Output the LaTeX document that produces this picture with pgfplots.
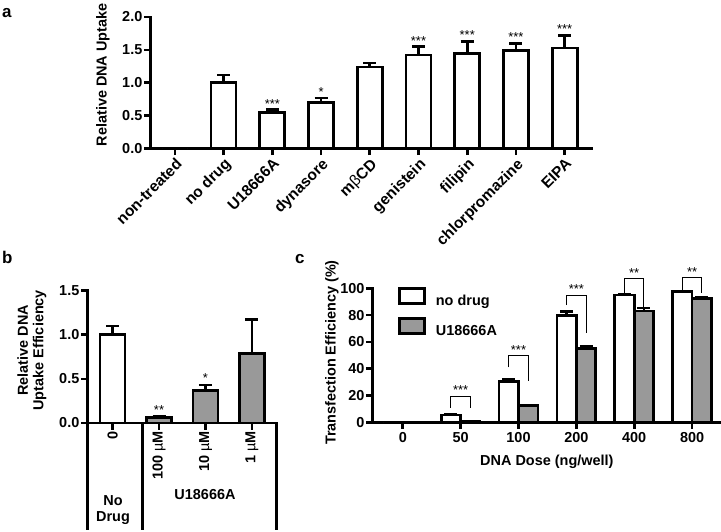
\documentclass[border=0pt]{standalone}
\usepackage{fontspec}
\setmainfont{Liberation Sans}
\usepackage{pgfplots}
\pgfplotsset{compat=1.18}

\definecolor{barg}{HTML}{999999}
\newcommand\fsL{\fontsize{14.5}{15.5}\selectfont\bfseries}
\newcommand\fsT{\fontsize{14.5}{14.5}\selectfont\bfseries}
\newcommand\fsS{\fontsize{13}{13}\selectfont\mdseries}

\tikzset{star/.style={font=\fsS, anchor=base, inner sep=0pt, yshift=1.5bp}}
\pgfplotsset{
  gp/.style={
    scale only axis, anchor=south west,
    axis x line*=bottom, axis y line*=left,
    axis line style={line width=2.7bp, line cap=rect, -},
    major tick style={line width=2.7bp, black},
    tick align=outside, major tick length=6.5bp,
    minor tick num=0,
    ymin=0, clip=false, enlargelimits=false,
    ybar,
    tick label style={font=\fsT, inner sep=1.5bp},
    every axis plot/.append style={line width=2.7bp, draw=black},
  },
  eb/.style={error bars/.cd, y dir=plus, y explicit,
    error bar style={line width=2.7bp, black},
    error mark options={rotate=90, mark size=6.5bp, line width=2.7bp, black}},
}

\begin{document}
\begin{tikzpicture}
\path[use as bounding box] (0bp,0bp) rectangle (721bp,-532bp);

% panel a
\begin{axis}[gp, at={(150.5bp,-148.5bp)},
  width=441bp, height=131.5bp,
  xmin=-0.5, xmax=8.55, ymax=2,
  ytick={0,0.5,1,1.5,2}, yticklabels={0.0,0.5,1.0,1.5,2.0},
  xtick={0,...,8},
  xticklabels={non-treated,no drug,U18666A,dynasore,m{\mdseries β}CD,genistein,filipin,chlorpromazine,EIPA},
  xticklabel style={rotate=45, anchor=north east, font=\fontsize{15.5}{15.5}\selectfont\bfseries},
  bar width=25bp,
  ylabel={Relative DNA Uptake},
  every axis y label/.style={at={(axis description cs:-0.108,0.56)}, rotate=90, anchor=center, font=\fsL},
]
\addplot[fill=white, bar shift=0pt, eb] coordinates {
  (0,0) +- (0,0)
  (1,1.00) +- (0,0.12)
  (2,0.55) +- (0,0.04)
  (3,0.70) +- (0,0.07)
  (4,1.24) +- (0,0.06)
  (5,1.42) +- (0,0.13)
  (6,1.44) +- (0,0.19)
  (7,1.49) +- (0,0.11)
  (8,1.53) +- (0,0.19)
};
\node[star] at (axis cs:2,0.59) {***};
\node[star] at (axis cs:3,0.77) {*};
\node[star] at (axis cs:5,1.55) {***};
\node[star] at (axis cs:6,1.63) {***};
\node[star] at (axis cs:7,1.60) {***};
\node[star] at (axis cs:8,1.72) {***};
\end{axis}

% panel b
\begin{axis}[gp, at={(87.5bp,-423bp)},
  width=189.5bp, height=132.3bp,
  xmin=-0.54, xmax=3.54, ymax=1.5,
  ytick={0,0.5,1,1.5}, yticklabels={0.0,0.5,1.0,1.5},
  xtick={0,1,2,3},
  xticklabels={0,100 {\mdseries µ}M,10 {\mdseries µ}M,1 {\mdseries µ}M},
  xticklabel style={rotate=90, anchor=east},
  bar width=25bp,
  ylabel={Relative DNA\\Uptake Efficiency},
  every axis y label/.style={at={(axis description cs:-0.293,0.55)}, rotate=90, anchor=center, align=center, font=\fsL},
]
\addplot[fill=white, bar shift=0pt, eb] coordinates {(0,1.00) +- (0,0.10)};
\addplot[fill=barg, bar shift=0pt, eb] coordinates {
  (1,0.06) +- (0,0.01)
  (2,0.37) +- (0,0.06)
  (3,0.79) +- (0,0.38)
};
\node[star] at (axis cs:1,0.08) {**};
\node[star] at (axis cs:2,0.44) {*};
\end{axis}
\draw[line width=2.7bp] (87.5bp,-423bp) -- (87.5bp,-530bp);
\draw[line width=2.7bp] (142.3bp,-423bp) -- (142.3bp,-530bp);
\draw[line width=2.7bp] (276.7bp,-423bp) -- (276.7bp,-530bp);
\node[font=\fsL, align=center] at (113bp,-510bp) {No\\Drug};
\node[font=\fsL] at (205bp,-495bp) {U18666A};

% panel c
\begin{axis}[gp, at={(372.7bp,-422.3bp)},
  width=348.3bp, height=134bp,
  xmin=-0.52, xmax=5.5, ymax=100,
  ybar=0pt, bar width=19.4bp,
  ytick={0,20,40,60,80,100}, yticklabels={0,20,40,60,80,100},
  xtick={0,...,5}, xticklabels={0,50,100,200,400,800},
  xticklabel style={yshift=-2bp},
  xlabel={DNA Dose (ng/well)},
  every axis x label/.style={at={(axis description cs:0.5,-0.294)}, anchor=center, font=\fsL},
  ylabel={Transfection Efficiency (\%)},
  every axis y label/.style={at={(axis description cs:-0.117,0.52)}, rotate=90, anchor=center, font=\fsL},
  legend image code/.code={\draw[#1, line width=2.7bp] (0bp,-2.3bp) rectangle (25bp,12.7bp);},
  legend style={at={(axis description cs:0.0727,1.012)}, anchor=north west,
    draw=none, fill=none, inner sep=0pt, row sep=10.4bp, column sep=10bp,
    nodes={inner sep=0pt}, font=\fsL},
  legend cell align=left,
]
\addplot[fill=white, eb] coordinates {
  (0,0) +- (0,0)
  (1,5.5) +- (0,0.5)
  (2,30.5) +- (0,1.2)
  (3,79.5) +- (0,3.2)
  (4,95.0) +- (0,0.6)
  (5,97.5) +- (0,0.5)
};
\addlegendentry{no drug}
\addplot[fill=barg, eb] coordinates {
  (0,0) +- (0,0)
  (1,0.5) +- (0,0.2)
  (2,12.5) +- (0,0.5)
  (3,55.0) +- (0,1.5)
  (4,83.0) +- (0,2.3)
  (5,92.5) +- (0,0.5)
};
\addlegendentry{U18666A}
\draw[line width=1bp] (axis cs:0.832,10.9) -- (axis cs:0.832,19.6) -- (axis cs:1.168,19.6) -- (axis cs:1.168,10.9);
\draw[line width=1bp] (axis cs:1.832,41) -- (axis cs:1.832,49.5) -- (axis cs:2.168,49.5) -- (axis cs:2.168,31);
\draw[line width=1bp] (axis cs:2.832,87.5) -- (axis cs:2.832,95) -- (axis cs:3.168,95) -- (axis cs:3.168,66.4);
\draw[line width=1bp] (axis cs:3.832,96.3) -- (axis cs:3.832,107) -- (axis cs:4.168,107) -- (axis cs:4.168,86.3);
\draw[line width=1bp] (axis cs:4.832,98.7) -- (axis cs:4.832,108) -- (axis cs:5.168,108) -- (axis cs:5.168,96.5);
\node[star] at (axis cs:1,19.6) {***};
\node[star] at (axis cs:2,49.5) {***};
\node[star] at (axis cs:3,95) {***};
\node[star] at (axis cs:4,107) {**};
\node[star] at (axis cs:5,108) {**};
\end{axis}

\node[anchor=base west, inner sep=0pt, font=\fontsize{17}{17}\selectfont\bfseries] at (2bp,-17bp) {a};
\node[anchor=base west, inner sep=0pt, font=\fontsize{17}{17}\selectfont\bfseries] at (2bp,-263bp) {b};
\node[anchor=base west, inner sep=0pt, font=\fontsize{17}{17}\selectfont\bfseries] at (295bp,-263bp) {c};
\end{tikzpicture}
\end{document}
